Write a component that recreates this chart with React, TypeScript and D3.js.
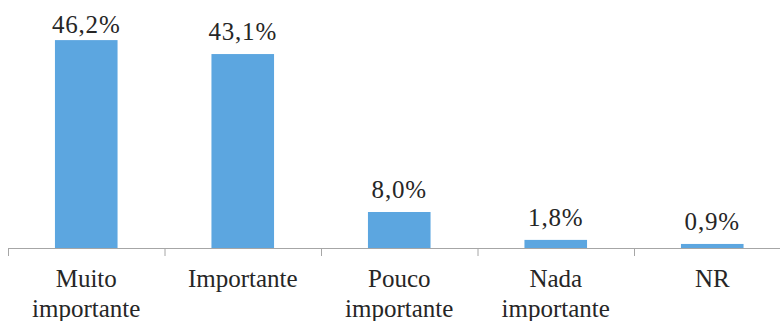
import React from "react";
import * as d3 from "d3";

const categories = ["Muito importante", "Importante", "Pouco importante", "Nada importante", "NR"];
const categoryLines = [["Muito", "importante"], ["Importante"], ["Pouco", "importante"], ["Nada", "importante"], ["NR"]];
const values = [46.2, 43.1, 8.0, 1.8, 0.9];
const valueLabels = ["46,2%", "43,1%", "8,0%", "1,8%", "0,9%"];

const W = 780;
const H = 321;
const baseY = 248;
const axisLeft = 8;
const step = 156.5;
const FONT = "Liberation Serif, Tinos, Times New Roman, DejaVu Serif, serif";

export default function App() {
  const x = d3
    .scaleBand<string>()
    .domain(categories)
    .range([axisLeft, axisLeft + step * categories.length])
    .paddingInner(0.6)
    .paddingOuter(0.3);
  const y = d3.scaleLinear().domain([0, 50]).range([baseY, baseY - 225]);
  const slot = d3.scaleBand<string>().domain(categories).range([axisLeft, axisLeft + step * categories.length]);
  const tickXs = categories.map((c) => slot(c) as number).concat([axisLeft + step * categories.length]);

  return (
    <svg
      width={W}
      height={H}
      style={{ position: "absolute", left: 0, top: 0, background: "#fff", fontFamily: FONT }}
    >
      <rect width={W} height={H} fill="#fff" />
      {categories.map((c, i) => (
        <rect
          key={c}
          x={x(c)}
          y={y(values[i])}
          width={x.bandwidth()}
          height={baseY - y(values[i])}
          fill="#5CA6E0"
        />
      ))}
      <line x1={axisLeft} x2={W} y1={baseY + 0.5} y2={baseY + 0.5} stroke="#A6A6A6" strokeWidth={1} />
      {tickXs.map((tx, i) => (
        <line key={i} x1={tx + 0.5} x2={tx + 0.5} y1={baseY} y2={baseY + 8} stroke="#A6A6A6" strokeWidth={1} />
      ))}
      {categories.map((c, i) => {
        const cx = (x(c) as number) + x.bandwidth() / 2;
        const ly = Math.max(y(values[i]) - 14, 32.5);
        return (
          <text key={c} x={cx} y={ly} textAnchor="middle" fontSize={25} fill="#262626" style={{ fontFamily: FONT }} letterSpacing={0.8}>
            {valueLabels[i]}
          </text>
        );
      })}
      {categories.map((c, i) => {
        const cx = (x(c) as number) + x.bandwidth() / 2;
        return (
          <text key={c} x={cx} y={287} textAnchor="middle" fontSize={25} fill="#262626" style={{ fontFamily: FONT }}>
            {categoryLines[i].map((l, j) => (
              <tspan key={j} x={cx} dy={j === 0 ? 0 : 30}>
                {l}
              </tspan>
            ))}
          </text>
        );
      })}
    </svg>
  );
}
